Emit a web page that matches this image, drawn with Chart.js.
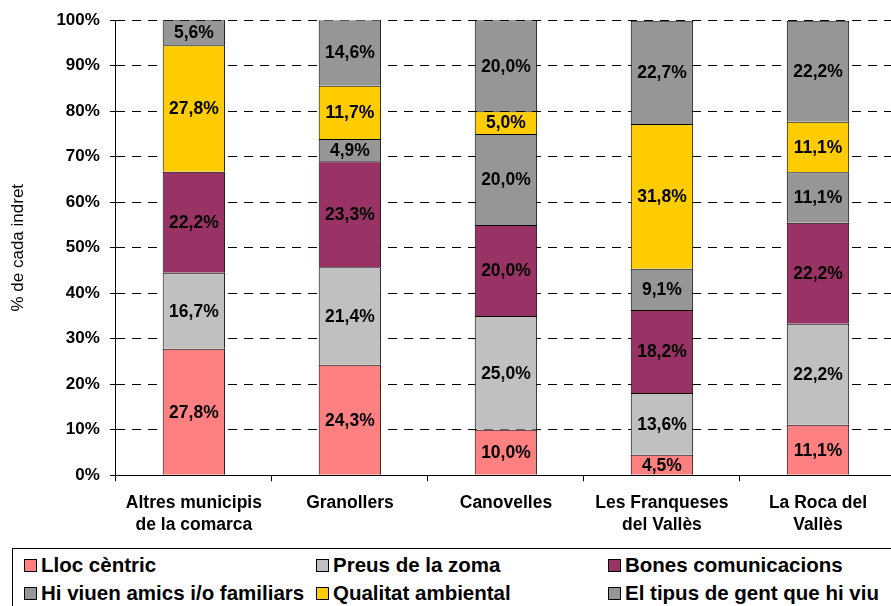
<!DOCTYPE html>
<html>
<head>
<meta charset="utf-8">
<script src="https://cdn.jsdelivr.net/npm/chart.js@4"></script>
<style>
  html, body { margin: 0; padding: 0; background: #fff; overflow: hidden; }
  #wrap { position: relative; width: 891px; height: 606px; overflow: hidden; }
  #box { position: absolute; left: 0; top: 0; width: 900px; height: 547px; }
  #legend {
    position: absolute; left: 12px; top: 548px; width: 900px; height: 62px;
    border: 1px solid #000; box-sizing: border-box; background: #fff;
    font-family: "Liberation Sans", Arial, sans-serif; font-weight: bold; font-size: 20.5px;
  }
  .item { position: absolute; display: flex; align-items: center; white-space: nowrap; line-height: 24px; }
  .sw { width: 11px; height: 11px; border: 1px solid #000; margin-right: 4px; }
</style>
</head>
<body>
<div id="wrap">
  <div id="box"><canvas id="myChart"></canvas></div>
  <div id="legend"></div>
</div>
<script>
  const categories = [
    ['Altres municipis', 'de la comarca'],
    'Granollers',
    'Canovelles',
    ['Les Franqueses', 'del Vallès'],
    ['La Roca del', 'Vallès']
  ]

  const llocCentric = [27.8, 24.3, 10.0, 4.5, 11.1]
  const preusZoma = [16.7, 21.4, 25.0, 13.6, 22.2]
  const bonesComunicacions = [22.2, 23.3, 20.0, 18.2, 22.2]
  const amicsFamiliars = [0, 4.9, 20.0, 9.1, 11.1]
  const qualitatAmbiental = [27.8, 11.7, 5.0, 31.8, 11.1]
  const tipusGent = [5.6, 14.6, 20.0, 22.7, 22.2]

  const yTicks = [0, 10, 20, 30, 40, 50, 60, 70, 80, 90, 100]

  const series = [
    { label: 'Lloc cèntric', data: llocCentric, color: '#FF8080' },
    { label: 'Preus de la zoma', data: preusZoma, color: '#C0C0C0' },
    { label: 'Bones comunicacions', data: bonesComunicacions, color: '#993366' },
    { label: 'Hi viuen amics i/o familiars', data: amicsFamiliars, color: '#969696' },
    { label: 'Qualitat ambiental', data: qualitatAmbiental, color: '#FFCC00' },
    { label: 'El tipus de gent que hi viu', data: tipusGent, color: '#969696' }
  ]

  const font = '"Liberation Sans", Arial, sans-serif'

  // labels inside each segment
  const segLabels = {
    id: 'segLabels',
    afterDatasetsDraw(chart) {
      const ctx = chart.ctx
      ctx.save()
      ctx.font = 'bold 17.5px ' + font
      ctx.fillStyle = '#000'
      ctx.textAlign = 'center'
      ctx.textBaseline = 'middle'
      chart.data.datasets.forEach((ds, i) => {
        const meta = chart.getDatasetMeta(i)
        meta.data.forEach((bar, j) => {
          const v = ds.data[j]
          if (!v) return
          const y = (bar.y + bar.base) / 2
          ctx.fillText(v.toFixed(1).replace('.', ',') + '%', bar.x, y + 1)
        })
      })
      ctx.restore()
    }
  }

  const config = {
    type: 'bar',
    data: {
      labels: categories,
      datasets: series.map(s => ({
        label: s.label,
        data: s.data,
        backgroundColor: s.color,
        borderColor: '#000',
        borderWidth: 1,
        barPercentage: 0.4,
        categoryPercentage: 1
      }))
    },
    options: {
      responsive: true,
      maintainAspectRatio: false,
      animation: false,
      layout: { padding: { top: 17, right: 4, left: 8, bottom: 0 } },
      plugins: {
        legend: { display: false },
        tooltip: { enabled: false }
      },
      scales: {
        x: {
          stacked: true,
          grid: { drawOnChartArea: false, drawTicks: true, tickLength: 6, color: '#000' },
          border: { color: '#000', width: 1 },
          ticks: { color: '#000', font: { family: font, weight: 'bold', size: 17.5, lineHeight: 1.25 }, padding: 11, maxRotation: 0 }
        },
        y: {
          stacked: true,
          min: 0,
          max: 100,
          afterBuildTicks(axis) { axis.ticks = yTicks.map(v => ({ value: v })) },
          grid: { color: '#000', tickColor: '#000', tickLength: 6, lineWidth: 1 },
          border: { color: '#000', width: 1, dash: [9, 7] },
          ticks: {
            color: '#000', padding: 10,
            font: { family: font, weight: 'bold', size: 17 },
            callback: v => v + '%'
          },
          title: {
            display: true, text: '% de cada indret', color: '#000',
            font: { family: font, size: 17 }, padding: { top: 0, bottom: 18 }
          }
        }
      }
    },
    plugins: [segLabels]
  }

  const myChart = new Chart(document.getElementById('myChart'), config)

  // legend in three columns
  const leg = document.getElementById('legend')
  const cols = [11, 303, 595]
  series.forEach((s, i) => {
    const d = document.createElement('div')
    d.className = 'item'
    d.style.left = cols[i % 3] + 'px'
    d.style.top = (i < 3 ? 4 : 32) + 'px'
    d.innerHTML = '<span class="sw" style="background:' + s.color + '"></span>' + s.label
    leg.appendChild(d)
  })
</script>
</body>
</html>
